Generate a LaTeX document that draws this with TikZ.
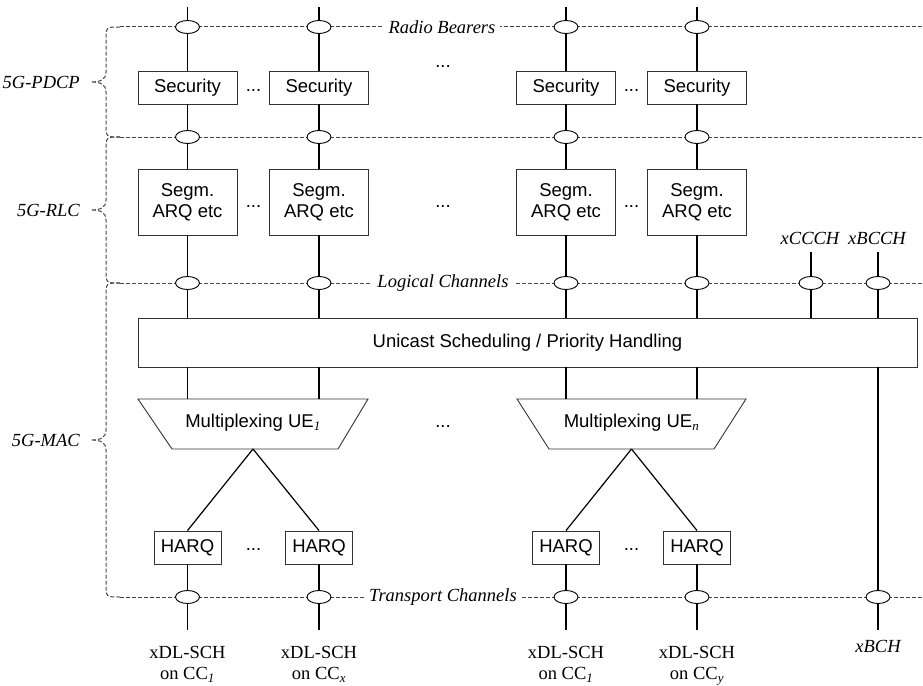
\documentclass[tikz,border=0pt]{standalone}
\usepackage{fontspec}
\setmainfont{Liberation Serif}
\setsansfont{Liberation Sans}
\usetikzlibrary{shapes.geometric}
\newcommand\lblsize{\fontsize{18.5}{21}\selectfont}

\begin{document}
\begin{tikzpicture}[x=1pt,y=-1pt,
  box/.style={draw=black!80, line width=0.9pt, fill=white, font=\lblsize\sffamily, inner sep=0pt, align=center},
  secbox/.style={box, minimum width=99, minimum height=33},
  segbox/.style={box, minimum width=99, minimum height=66},
  harqbox/.style={box, minimum width=67, minimum height=33},
  sap/.style={ellipse, draw=black, line width=0.9pt, fill=white, minimum width=24, minimum height=13, inner sep=0pt},
  wire/.style={line width=1.2pt, black},
  chan/.style={draw=black!72, line width=1pt, dash pattern=on 4pt off 2pt},
  chanlbl/.style={fill=white, font=\lblsize\itshape, inner xsep=5pt, inner ysep=1pt},
  layerlbl/.style={font=\lblsize\itshape, anchor=east, inner sep=0pt},
  dots/.style={font=\lblsize\sffamily, inner sep=0pt},
  trlbl/.style={font=\lblsize, align=center, inner sep=0pt, anchor=north},
]
\useasboundingbox (0,0) rectangle (923,685);

% ---- layer braces (dashed) ----
\draw[chan] (120,27) .. controls (106,27) .. (106,40) -- (106,72)
  .. controls (106,80) and (100,82) .. (91,82)
  .. controls (100,82) and (106,84) .. (106,92) -- (106,124)
  .. controls (106,137) .. (120,137);
\draw[chan] (120,137) .. controls (106,137) .. (106,150) -- (106,200)
  .. controls (106,208) and (100,210) .. (91,210)
  .. controls (100,210) and (106,212) .. (106,220) -- (106,270)
  .. controls (106,283) .. (120,283);
\draw[chan] (120,283) .. controls (106,283) .. (106,296) -- (106,430)
  .. controls (106,438) and (100,440) .. (91,440)
  .. controls (100,440) and (106,442) .. (106,450) -- (106,584)
  .. controls (106,597) .. (120,597);

\node[layerlbl] (pdcp) at (80,82) {5G-PDCP};
\node[layerlbl] (rlc) at (80,210) {5G-RLC};
\node[layerlbl] (mac) at (80,440) {5G-MAC};

% ---- service access point lines ----
\draw[chan] (120,27) -- (923,27);
\draw[chan] (120,137) -- (923,137);
\draw[chan] (120,283) -- (923,283);
\draw[chan] (120,597) -- (923,597);
\node[chanlbl] (rbl) at (442,27) {Radio Bearers};
\node[chanlbl] (lcl) at (443,283) {Logical Channels};
\node[chanlbl] (tcl) at (443,597) {Transport Channels};

% ---- entry points at the top ----
\coordinate (t1) at (187.5,7);
\coordinate (t2) at (319,7);
\coordinate (t3) at (566,7);
\coordinate (t4) at (697,7);

% ---- PDCP ----
\node[sap] (rb1) at (187.5,27) {};
\node[sap] (rb2) at (319,27) {};
\node[sap] (rb3) at (566,27) {};
\node[sap] (rb4) at (697,27) {};
\node[secbox] (sec1) at (187.5,87.5) {Security};
\node[secbox] (sec2) at (319,87.5) {Security};
\node[secbox] (sec3) at (566,87.5) {Security};
\node[secbox] (sec4) at (697,87.5) {Security};
\node[dots] (d1) at (253.5,91) {...};
\node[dots] (d2) at (443,67) {...};
\node[dots] (d3) at (631.5,91) {...};

% ---- RLC ----
\node[sap] (pr1) at (187.5,137) {};
\node[sap] (pr2) at (319,137) {};
\node[sap] (pr3) at (566,137) {};
\node[sap] (pr4) at (697,137) {};
\node[segbox] (seg1) at (187.5,202) {Segm.\\ARQ etc};
\node[segbox] (seg2) at (319,202) {Segm.\\ARQ etc};
\node[segbox] (seg3) at (566,202) {Segm.\\ARQ etc};
\node[segbox] (seg4) at (697,202) {Segm.\\ARQ etc};
\node[dots] (d4) at (253.5,207) {...};
\node[dots] (d5) at (443,207) {...};
\node[dots] (d6) at (631.5,207) {...};

% ---- logical channels ----
\node[font=\lblsize\itshape, inner sep=0pt] (ccch) at (810,238) {xCCCH};
\node[font=\lblsize\itshape, inner sep=0pt] (bcch) at (877,238) {xBCCH};
\coordinate (ccchtop) at (811,252);
\coordinate (bcchtop) at (878,252);
\node[sap] (lc1) at (187.5,283) {};
\node[sap] (lc2) at (319,283) {};
\node[sap] (lc3) at (566,283) {};
\node[sap] (lc4) at (697,283) {};
\node[sap] (lc5) at (811,283) {};
\node[sap] (lc6) at (878,283) {};

% ---- MAC ----
\node[box, minimum width=779, minimum height=49] (uni) at (527.5,342.5)
  {Unicast Scheduling / Priority Handling};

\draw[draw=black!80, line width=0.9pt] (138,399) -- (368,399) -- (338,449) -- (172,449) -- cycle;
\node[font=\lblsize\sffamily, inner sep=0pt] (mux1) at (253,423)
  {Multiplexing UE\textsubscript{\rmfamily\itshape 1}};
\draw[draw=black!80, line width=0.9pt] (517,399) -- (746,399) -- (714,449) -- (549,449) -- cycle;
\node[font=\lblsize\sffamily, inner sep=0pt] (muxn) at (631.5,423)
  {Multiplexing UE\textsubscript{\rmfamily\itshape n}};
\coordinate (m1a) at (187.5,399);
\coordinate (m1b) at (319,399);
\coordinate (mna) at (566,399);
\coordinate (mnb) at (697,399);
\coordinate (m1apex) at (253,449);
\coordinate (mnapex) at (631.5,449);
\node[dots] (d7) at (443,427) {...};

\node[harqbox] (h1) at (187.5,547.5) {HARQ};
\node[harqbox] (h2) at (319,547.5) {HARQ};
\node[harqbox] (h3) at (566,547.5) {HARQ};
\node[harqbox] (h4) at (697,547.5) {HARQ};
\node[dots] (d8) at (253.5,550) {...};
\node[dots] (d9) at (631.5,550) {...};

% ---- transport channels ----
\node[sap] (tc1) at (187.5,597) {};
\node[sap] (tc2) at (319,597) {};
\node[sap] (tc3) at (566,597) {};
\node[sap] (tc4) at (697,597) {};
\node[sap] (tc5) at (878,597) {};
\coordinate (b1) at (187.5,630);
\coordinate (b2) at (319,630);
\coordinate (b3) at (566,630);
\coordinate (b4) at (697,630);
\coordinate (b5) at (878,630);
\node[trlbl] (ch1) at (187.5,646) {xDL-SCH\\on CC\textsubscript{\itshape 1}};
\node[trlbl] (ch2) at (319,646) {xDL-SCH\\on CC\textsubscript{\itshape x}};
\node[trlbl] (ch3) at (566,646) {xDL-SCH\\on CC\textsubscript{\itshape 1}};
\node[trlbl] (ch4) at (697,646) {xDL-SCH\\on CC\textsubscript{\itshape y}};
\node[font=\lblsize\itshape, inner sep=0pt, anchor=base] (bch) at (878,652) {xBCH};

% ---- connectors ----
\foreach \i in {1,2,3,4} {
  \draw[wire] (t\i) -- (rb\i);
  \draw[wire] (rb\i) -- (sec\i);
  \draw[wire] (sec\i) -- (pr\i);
  \draw[wire] (pr\i) -- (seg\i);
  \draw[wire] (seg\i) -- (lc\i);
  \draw[wire] (lc\i) -- (lc\i |- uni.north);
  \draw[wire] (h\i) -- (tc\i);
  \draw[wire] (tc\i) -- (b\i);
}
\draw[wire] (ccchtop) -- (lc5);
\draw[wire] (lc5) -- (lc5 |- uni.north);
\draw[wire] (bcchtop) -- (lc6);
\draw[wire] (lc6) -- (lc6 |- uni.north);
\draw[wire] (uni.south -| m1a) -- (m1a);
\draw[wire] (uni.south -| m1b) -- (m1b);
\draw[wire] (uni.south -| mna) -- (mna);
\draw[wire] (uni.south -| mnb) -- (mnb);
\draw[wire] (uni.south -| tc5) -- (tc5);
\draw[wire] (tc5) -- (b5);
\draw[wire] (m1apex) -- (h1.north);
\draw[wire] (m1apex) -- (h2.north);
\draw[wire] (mnapex) -- (h3.north);
\draw[wire] (mnapex) -- (h4.north);
\end{tikzpicture}
\end{document}
